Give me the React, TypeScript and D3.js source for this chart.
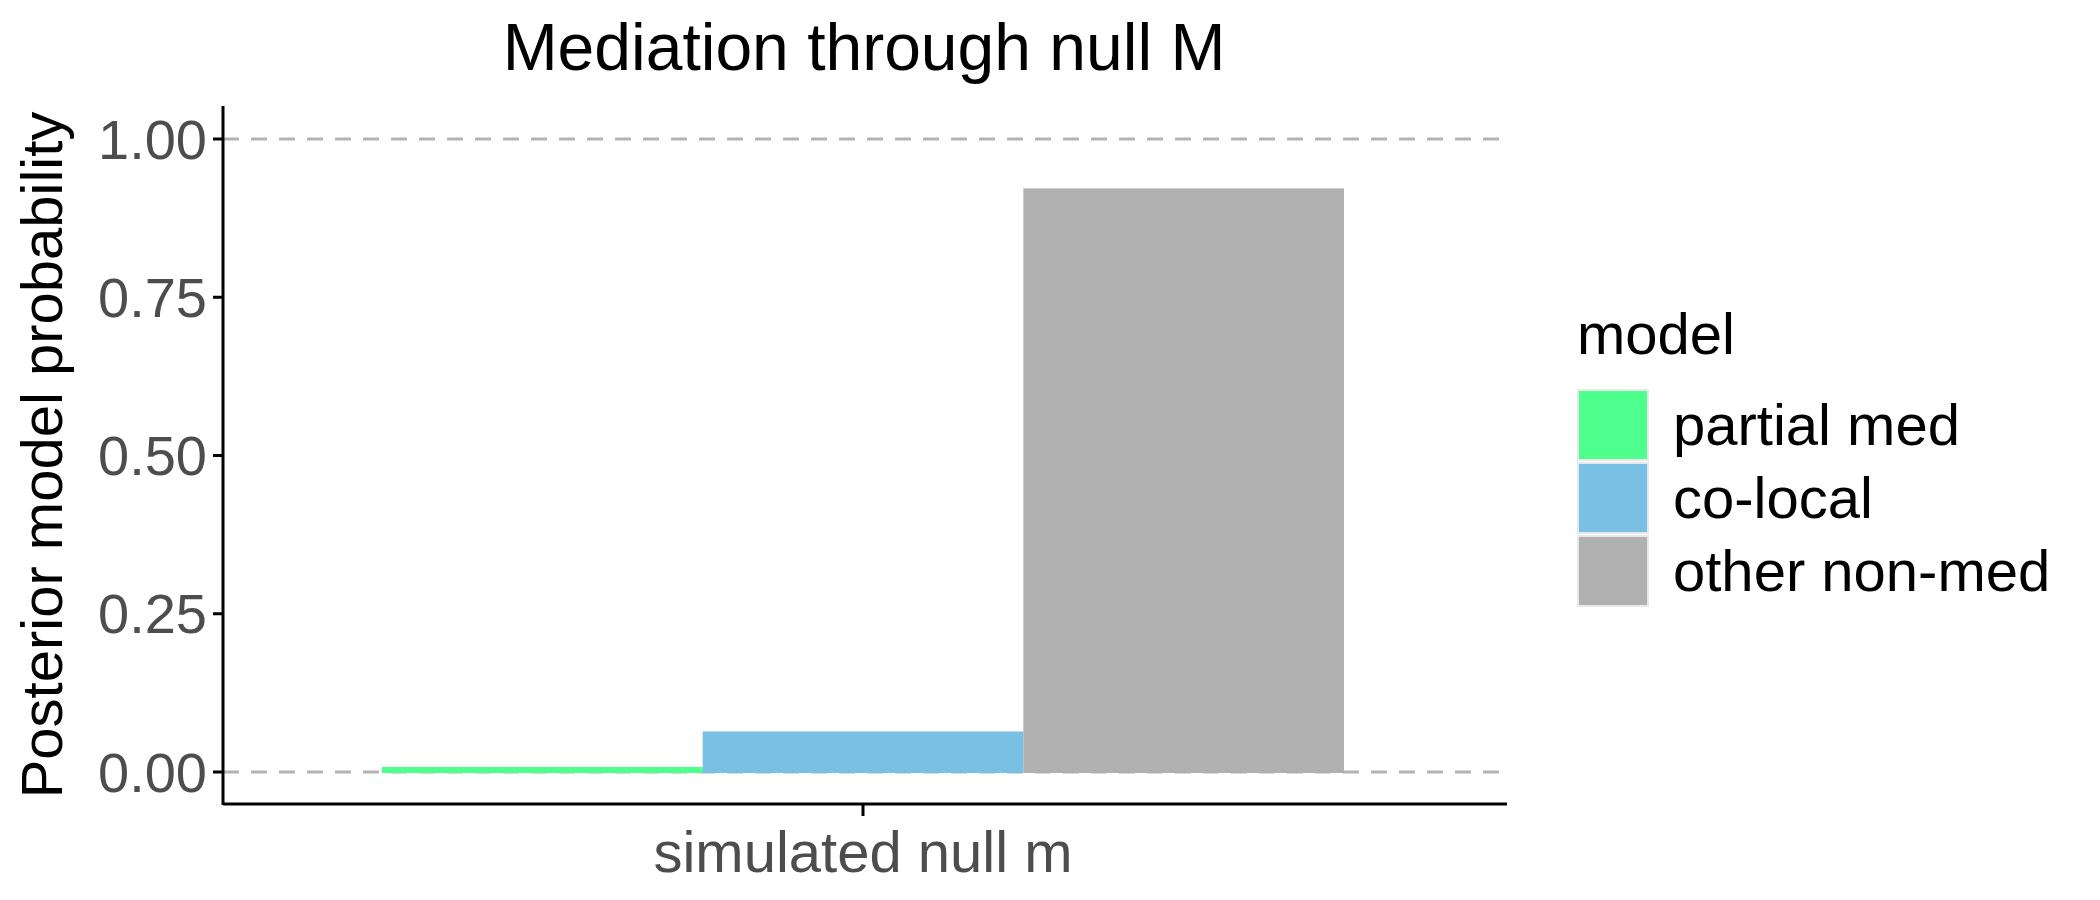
import React from "react";
import * as d3 from "d3";

const categories = ["simulated null m"];
const models = ["partial med", "co-local", "other non-med"];
const values = [0.008, 0.064, 0.922];
const colors = ["#4EFF8E", "#78C1E4", "#B0B0B0"];
const yTicks = [0, 0.25, 0.5, 0.75, 1.0];

export default function App() {
  const W = 2100, H = 900;
  const L = 223, R = 1507, T = 139, B = 772;
  const y = d3.scaleLinear().domain([0, 1]).range([B, T]);
  const x = d3.scaleBand().domain(categories).range([382, 1344]);
  const inner = d3.scaleBand().domain(models).range([x(categories[0])!, x(categories[0])! + x.bandwidth()]);
  const cx = x(categories[0])! + x.bandwidth() / 2;
  const font = "Liberation Sans, Arial, sans-serif";
  return (
    <svg width={W} height={H} style={{ display: "block", margin: -8 }} fontFamily={font}>
      <rect width={W} height={H} fill="white" />
      {[0, 1].map((v) => (
        <line key={v} x1={L} x2={R} y1={y(v)} y2={y(v)} stroke="#B3B3B3" strokeWidth={3} strokeDasharray="16,12" />
      ))}
      {models.map((m, i) => (
        <rect key={m} x={inner(m)} width={inner.bandwidth()} y={y(values[i])} height={y(0) - y(values[i]) + 1} fill={colors[i]} />
      ))}
      <line x1={L} x2={L} y1={106} y2={805} stroke="black" strokeWidth={3} />
      <line x1={L} x2={R} y1={804} y2={804} stroke="black" strokeWidth={3} />
      {yTicks.map((t) => (
        <g key={t}>
          <line x1={L - 10} x2={L} y1={y(t)} y2={y(t)} stroke="black" strokeWidth={3} />
          <text x={L - 16} y={y(t)} dy="0.35em" textAnchor="end" fontSize={56} fill="#4D4D4D">{t.toFixed(2)}</text>
        </g>
      ))}
      <line x1={cx} x2={cx} y1={804} y2={816} stroke="black" strokeWidth={3} />
      <text x={cx} y={872} textAnchor="middle" fontSize={58} fill="#4D4D4D">{categories[0]}</text>
      <text transform={`translate(62,455) rotate(-90)`} textAnchor="middle" fontSize={58} fill="black">Posterior model probability</text>
      <text x={864} y={70} textAnchor="middle" fontSize={66} fill="black">Mediation through null M</text>
      <text x={1577} y={354} fontSize={58} fill="black">model</text>
      {models.map((m, i) => (
        <g key={m}>
          <rect x={1578} y={390 + i * 73} width={70} height={70} fill={colors[i]} stroke="#E8E8E8" strokeWidth={2} />
          <text x={1673} y={425 + i * 73} dy="0.35em" fontSize={58} fill="black">{m}</text>
        </g>
      ))}
    </svg>
  );
}
